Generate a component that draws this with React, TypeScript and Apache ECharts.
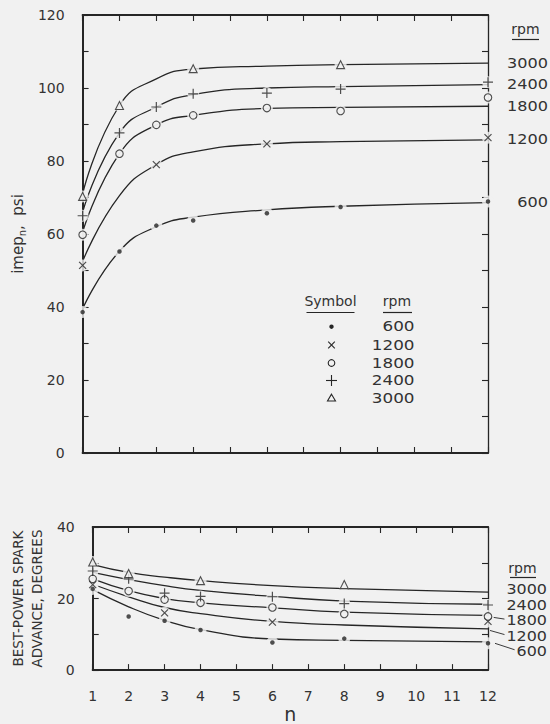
import React, { useEffect, useRef } from "react";
import * as echarts from "echarts";

// ---------- data ----------
const nValues = [1, 2, 3, 4, 6, 8, 12];
const rpmNames = ["600", "1200", "1800", "2400", "3000"];
const xTickLabels = ["1", "2", "3", "4", "5", "6", "7", "8", "9", "10", "11", "12"];
const imepTickLabels = ["0", "20", "40", "60", "80", "100", "120"];
const sparkTickLabels = ["0", "20", "40"];

// imep_n, psi : measured points (null = no symbol plotted)
const imepPts600 = [38.6, 55.2, 62.3, 63.7, 65.7, 67.4, 68.9];
const imepPts1200 = [51.4, null, 79.0, null, 84.7, null, 86.4];
const imepPts1800 = [59.8, 82.0, 89.9, 92.5, 94.5, 93.7, 97.4];
const imepPts2400 = [65.0, 87.7, 94.8, 98.4, 98.6, 99.7, 101.6];
const imepPts3000 = [70.3, 95.2, null, 105.3, null, 106.4, null];

// imep_n, psi : faired curves read at the same n
const imepFit600 = [39.5, 55.3, 62.0, 64.6, 66.6, 67.6, 68.6];
const imepFit1200 = [52.5, 70.5, 79.0, 82.5, 84.7, 85.3, 85.8];
const imepFit1800 = [60.5, 82.0, 89.9, 92.5, 94.4, 94.7, 95.0];
const imepFit2400 = [66.0, 87.7, 94.8, 98.2, 100.0, 100.4, 100.9];
const imepFit3000 = [71.0, 95.2, 102.5, 105.2, 106.0, 106.4, 106.8];

// best-power spark advance, degrees : measured points
const sparkPts600 = [22.7, 15.0, 13.8, 11.2, 7.7, 8.8, 7.5];
const sparkPts1200 = [23.9, null, 16.0, null, 13.4, null, 13.6];
const sparkPts1800 = [25.5, 22.1, 19.7, 18.8, 17.5, 15.7, 15.0];
const sparkPts2400 = [27.7, 25.5, 21.5, 20.6, 20.5, 18.6, 18.2];
const sparkPts3000 = [30.2, 27.0, null, 25.0, null, 23.9, null];

// best-power spark advance, degrees : faired curves
const sparkFit600 = [22.5, 17.7, 13.9, 11.3, 8.7, 8.3, 7.9];
const sparkFit1200 = [24.0, 20.5, 17.5, 15.8, 13.6, 12.6, 11.5];
const sparkFit1800 = [25.5, 22.2, 20.0, 18.8, 17.4, 16.2, 15.3];
const sparkFit2400 = [27.3, 25.3, 23.6, 22.3, 20.6, 19.3, 18.4];
const sparkFit3000 = [29.5, 27.3, 26.0, 25.0, 23.6, 22.8, 21.8];

// ---------- style ----------
const BG = "#f1f1f1";
const INK = "#262626";
const TXT = "#333333";
const FONT = "DejaVu Sans";

const symDefs = [
  { symbol: "circle", size: 4.5, fill: INK, stroke: INK, bw: 0 },
  { symbol: "path://M0,0L10,10M10,0L0,10", size: 7, fill: "rgba(0,0,0,0)", stroke: INK, bw: 1.2 },
  { symbol: "circle", size: 7.5, fill: BG, stroke: INK, bw: 1.1 },
  { symbol: "path://M5,0L5,10M0,5L10,5", size: 10, fill: "rgba(0,0,0,0)", stroke: INK, bw: 1.2 },
  { symbol: "triangle", size: 8, fill: BG, stroke: INK, bw: 1.1 },
];

const imepPts = [imepPts600, imepPts1200, imepPts1800, imepPts2400, imepPts3000];
const imepFit = [imepFit600, imepFit1200, imepFit1800, imepFit2400, imepFit3000];
const sparkPts = [sparkPts600, sparkPts1200, sparkPts1800, sparkPts2400, sparkPts3000];
const sparkFit = [sparkFit600, sparkFit1200, sparkFit1800, sparkFit2400, sparkFit3000];

function curve(fit: number[], xi: number, yi: number) {
  return {
    type: "line",
    xAxisIndex: xi,
    yAxisIndex: yi,
    data: nValues.map((n, i) => [n, fit[i]]),
    smooth: 0.5,
    symbol: "none",
    showSymbol: false,
    lineStyle: { color: INK, width: 1.3 },
    silent: true,
    z: 2,
  };
}

function points(pts: (number | null)[], k: number, xi: number, yi: number) {
  const data = nValues.map((n, i) => [n, pts[i]]).filter((p) => p[1] != null);
  const s = symDefs[k];
  return [
    {
      type: "scatter",
      xAxisIndex: xi,
      yAxisIndex: yi,
      data,
      symbol: "circle",
      symbolSize: 12,
      itemStyle: { color: BG, borderWidth: 0 },
      silent: true,
      z: 3,
    },
    {
      type: "scatter",
      xAxisIndex: xi,
      yAxisIndex: yi,
      data,
      symbol: s.symbol,
      symbolSize: s.size,
      itemStyle: { color: s.fill, borderColor: s.stroke, borderWidth: s.bw },
      silent: true,
      z: 4,
    },
  ];
}

function xAxisDef(grid: number, pos: string, labels: boolean, width: number) {
  return {
    type: "value",
    gridIndex: grid,
    position: pos,
    min: 1,
    max: 12,
    interval: 1,
    axisLine: { show: true, onZero: false, lineStyle: { color: INK, width } },
    axisTick: { show: true, inside: true, length: 6, lineStyle: { color: INK, width: 1.1 } },
    axisLabel: labels
      ? {
          show: true,
          margin: 19,
          color: TXT,
          fontFamily: FONT,
          fontSize: 14,
          formatter: (v: number) => xTickLabels[v - 1] ?? "",
        }
      : { show: false },
    splitLine: { show: false },
  };
}

function yAxisDef(grid: number, pos: string, max: number, tickLabels: string[] | null, width: number) {
  return {
    type: "value",
    gridIndex: grid,
    position: pos,
    min: 0,
    max,
    interval: 10,
    axisLine: { show: true, onZero: false, lineStyle: { color: INK, width } },
    axisTick: { show: true, inside: true, length: 6, lineStyle: { color: INK, width: 1.1 } },
    axisLabel: tickLabels
      ? {
          show: true,
          margin: 18,
          color: TXT,
          fontFamily: FONT,
          fontSize: 14,
          formatter: (v: number) => (tickLabels.includes(String(v)) ? String(v) : ""),
        }
      : { show: false },
    splitLine: { show: false },
  };
}

export default function App() {
  const ref = useRef<HTMLDivElement>(null);

  useEffect(() => {
    const chart = echarts.init(ref.current!, null, { renderer: "svg" });

    const series: any[] = [];
    for (let k = 0; k < 5; k++) {
      series.push(curve(imepFit[k], 0, 0));
      series.push(...points(imepPts[k], k, 0, 0));
      series.push(curve(sparkFit[k], 2, 2));
      series.push(...points(sparkPts[k], k, 2, 2));
    }

    const yTop: any = yAxisDef(0, "left", 120, imepTickLabels, 2);
    yTop.name = "{a|imep}{s|n}{a|,  psi}";
    yTop.nameLocation = "middle";
    yTop.nameGap = 47;
    yTop.nameTextStyle = {
      color: TXT,
      fontFamily: FONT,
      rich: {
        a: { fontSize: 15, fontFamily: FONT, color: TXT, lineHeight: 22 },
        s: { fontSize: 10, fontFamily: FONT, color: TXT, lineHeight: 22, padding: [9, 0, 0, 0] },
      },
    };

    const yBot: any = yAxisDef(1, "left", 40, sparkTickLabels, 2);
    yBot.name = "BEST-POWER SPARK\nADVANCE, DEGREES";
    yBot.nameLocation = "middle";
    yBot.nameGap = 44;
    yBot.nameTextStyle = { color: TXT, fontFamily: FONT, fontSize: 13.5, lineHeight: 19 };

    const xBot: any = xAxisDef(1, "bottom", true, 2);
    xBot.name = "n";
    xBot.nameLocation = "middle";
    xBot.nameGap = 32;
    xBot.nameTextStyle = { color: TXT, fontFamily: FONT, fontSize: 19 };

    chart.setOption({
      animation: false,
      backgroundColor: BG,
      grid: [
        { left: 80, top: 15, width: 408, height: 438, containLabel: false },
        { left: 80, top: 527, width: 408, height: 146.5, containLabel: false },
      ],
      xAxis: [
        xAxisDef(0, "bottom", false, 2),
        xAxisDef(0, "top", false, 2),
        xBot,
        xAxisDef(1, "top", false, 2),
      ],
      yAxis: [yTop, yAxisDef(0, "right", 120, null, 1.3), yBot, yAxisDef(1, "right", 40, null, 1.3)],
      series,
    });

    // ---------- annotations placed from data ----------
    const g: any[] = [];
    const txt = (text: string, x: number, y: number, size: number, align = "left", sx = 1) => ({
      type: "text",
      silent: true,
      x,
      y,
      scaleX: sx,
      style: {
        text,
        x: 0,
        y: 0,
        fontSize: size,
        fontFamily: FONT,
        fill: TXT,
        align,
        verticalAlign: "middle",
      },
    });
    const ln = (x1: number, y1: number, x2: number, y2: number, w = 1) => ({
      type: "line",
      silent: true,
      shape: { x1, y1, x2, y2 },
      style: { stroke: INK, lineWidth: w },
    });

    // top right labels
    g.push(txt("rpm", 525.5, 29, 14, "center"));
    g.push(ln(512, 39.5, 539, 39.5, 1.2));
    for (let k = 0; k < 5; k++) {
      const p = chart.convertToPixel({ xAxisIndex: 0, yAxisIndex: 0 }, [12, imepFit[k][6]]) as number[];
      g.push(txt(rpmNames[k], 548, p[1], 14, "right", 1.15));
    }

    // bottom right labels with leaders
    const botOffsets = [8.9, 6.6, 4.7, 0.5, -3];
    g.push(txt("rpm", 522.5, 568, 14, "center"));
    g.push(ln(510, 577.5, 536, 577.5, 1.2));
    for (let k = 0; k < 5; k++) {
      const p = chart.convertToPixel({ xAxisIndex: 2, yAxisIndex: 2 }, [12, sparkFit[k][6]]) as number[];
      const ly = p[1] + botOffsets[k];
      g.push(txt(rpmNames[k], 547, ly, 13.5, "right", 1.18));
      if (k <= 2) {
        const left = 547 - rpmNames[k].length * 0.636 * 13.5 * 1.18;
        g.push(ln(p[0] + (k === 0 ? 7 : 2), p[1] + 1.5, left - 2, ly - 1, 0.9));
      }
    }

    // legend table
    g.push(txt("Symbol", 330.5, 300.5, 14, "center"));
    g.push(ln(306.5, 312.5, 354.5, 312.5, 1.2));
    g.push(txt("rpm", 397, 300.5, 14, "center"));
    g.push(ln(383, 312.5, 412, 312.5, 1.2));
    const rowsY = [326.7, 345, 363, 380.5, 398];
    const sx = 331.5;
    for (let k = 0; k < 5; k++) {
      const y = rowsY[k];
      g.push(txt(rpmNames[k], 414.5, y, 14, "right", 1.2));
      if (k === 0) {
        g.push({ type: "circle", silent: true, shape: { cx: sx, cy: y, r: 2.2 }, style: { fill: INK } });
      } else if (k === 1) {
        g.push(ln(sx - 3.3, y - 3.3, sx + 3.3, y + 3.3, 1.1));
        g.push(ln(sx - 3.3, y + 3.3, sx + 3.3, y - 3.3, 1.1));
      } else if (k === 2) {
        g.push({ type: "circle", silent: true, shape: { cx: sx, cy: y, r: 3.3 }, style: { fill: "none", stroke: INK, lineWidth: 1.1 } });
      } else if (k === 3) {
        g.push(ln(sx - 5.5, y, sx + 5.5, y, 1.1));
        g.push(ln(sx, y - 5.5, sx, y + 5.5, 1.1));
      } else {
        g.push({
          type: "polygon",
          silent: true,
          shape: { points: [[sx, y - 3.8], [sx + 4, y + 3], [sx - 4, y + 3]] },
          style: { fill: "none", stroke: INK, lineWidth: 1.1 },
        });
      }
    }

    chart.setOption({ graphic: g });

    return () => chart.dispose();
  }, []);

  return (
    <div
      ref={ref}
      style={{ position: "fixed", left: 0, top: 0, width: 550, height: 724, background: BG }}
    />
  );
}
